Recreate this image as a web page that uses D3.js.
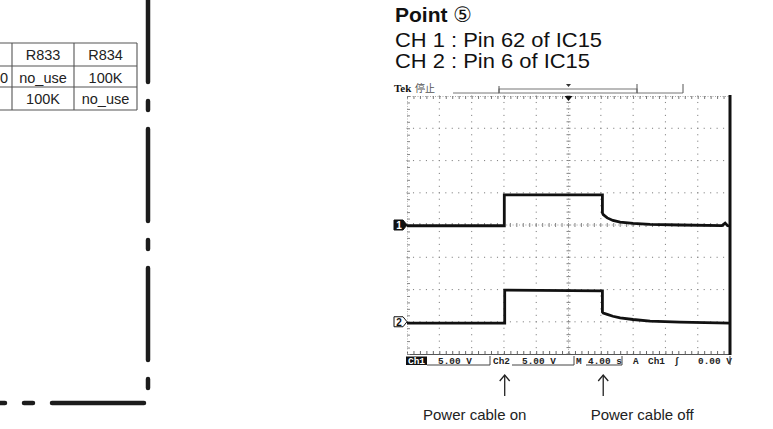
<!DOCTYPE html>
<html><head><meta charset="utf-8">
<script src="https://cdn.jsdelivr.net/npm/d3@7"></script>
<style>body{margin:0;background:#fff}svg{display:block}</style>
</head><body><svg id="c" width="773" height="429"></svg>
<script>
// ---- data ----
const ch1Time  = [-20, -7.95, -7.95, 4.2, 4.2, 4.3, 4.8, 5.5, 6.4, 8.0, 10.1, 13.8, 19.0, 19.4, 19.7, 20];
const ch1Volts = [-0.12, -0.12, 4.68, 4.68, 1.9, 1.6, 1.1, 0.7, 0.45, 0.25, 0.1, 0.0, -0.1, 0.3, -0.1, -0.12];
const ch2Time  = [-20, -7.9, -7.9, 4.2, 4.2, 4.3, 4.8, 5.5, 6.4, 8.0, 10.1, 13.8, 20];
const ch2Volts = [-0.2, -0.2, 4.9, 4.8, 1.5, 1.35, 1.15, 0.85, 0.6, 0.35, 0.1, -0.05, -0.2];
const channelOffsetsDiv = [0, -3];
const voltsPerDiv = 5;
const secPerDiv = 4;
const titleBold = "Point";
const titleCircle = "\u2464";
const titleLines = ["CH 1 : Pin 62 of IC15", "CH 2 : Pin 6 of IC15"];
const statusTexts = ["5.00 V", "Ch2", "5.00 V", "M", "4.00 s", "A", "Ch1", "\u0283", "0.00 V"];
const arrowTimes = [-7.9, 4.3];
const arrowLabels = ["Power cable on", "Power cable off"];
const tableHeader = ["", "R833", "R834"];
const tableRows = [["0", "no_use", "100K"], ["", "100K", "no_use"]];

// ---- setup ----
const svg = d3.select("#c");
svg.append("rect").attr("width", 773).attr("height", 429).attr("fill", "#fff");

const x = d3.scaleLinear().domain([-5 * secPerDiv, 5 * secPerDiv]).range([407, 730]);
const yDiv = d3.scaleLinear().domain([-4, 4]).range([354, 96]);
const chY = (ch, v) => yDiv(channelOffsetsDiv[ch] + v / voltsPerDiv);

// ---- left decorations: table + dashed border ----
const colX = [-50, 12, 74, 137];
const rowY = [43, 66, 87, 110];
const tg = svg.append("g").attr("stroke", "#555").attr("stroke-width", 1.1);
rowY.forEach(yy => tg.append("line").attr("x1", 0).attr("x2", 137).attr("y1", yy).attr("y2", yy));
colX.slice(1).forEach(xx => tg.append("line").attr("x1", xx).attr("x2", xx).attr("y1", 43).attr("y2", 110));
const allRows = [tableHeader, ...tableRows];
allRows.forEach((row, r) => {
  row.forEach((txt, c) => {
    if (!txt) return;
    const cx = c === 0 ? 8 : (colX[c] + colX[c + 1]) / 2;
    svg.append("text").attr("x", cx).attr("y", rowY[r] + 17)
      .attr("text-anchor", c === 0 ? "end" : "middle")
      .attr("font-family", "Liberation Sans, Arial, sans-serif").attr("font-size", 14.5)
      .attr("fill", "#222").text(txt);
  });
});
svg.append("path").attr("d", "M148,403 L148,-60")
  .attr("stroke", "#1c1c1c").attr("stroke-width", 4.5).attr("fill", "none")
  .attr("stroke-linecap", "round").attr("stroke-dasharray", "92,19,9,19").attr("stroke-dashoffset", 96);
svg.append("path").attr("d", "M148,403 L-60,403")
  .attr("stroke", "#1c1c1c").attr("stroke-width", 4.5).attr("fill", "none")
  .attr("stroke-linecap", "round").attr("stroke-dasharray", "92,19,9,19").attr("stroke-dashoffset", 135);

// ---- titles ----
const sans = "Liberation Sans, Arial, Helvetica, sans-serif";
const t0 = svg.append("text").attr("x", 395).attr("y", 22).attr("font-family", sans).attr("font-size", 21).attr("fill", "#111");
t0.append("tspan").attr("font-weight", "bold").text(titleBold + " ");
t0.append("tspan").attr("font-family", "DejaVu Sans, Noto Sans CJK JP, sans-serif").attr("font-size", 21).text(titleCircle);
titleLines.forEach((s, i) => {
  svg.append("text").attr("x", 395).attr("y", 47 + i * 21).attr("font-family", sans)
    .attr("font-size", 21).attr("textLength", i === 0 ? 207 : 195).attr("lengthAdjust", "spacingAndGlyphs")
    .attr("fill", "#111").text(s);
});

// ---- scope header ----
svg.append("text").attr("x", 394).attr("y", 92).attr("font-family", "Liberation Serif, Times, serif")
  .attr("font-weight", "bold").attr("font-size", 11).attr("fill", "#111").text("Tek");
svg.append("text").attr("x", 415).attr("y", 92).attr("font-family", "Noto Sans CJK JP, sans-serif")
  .attr("font-size", 10).attr("fill", "#555").text("停止");
const hg = svg.append("g").attr("stroke", "#777").attr("stroke-width", 1).attr("fill", "none");
hg.append("line").attr("x1", 453).attr("x2", 499).attr("y1", 93).attr("y2", 93);
hg.append("rect").attr("x", 499).attr("y", 89).attr("width", 138).attr("height", 4);
hg.append("line").attr("x1", 637).attr("x2", 683).attr("y1", 93).attr("y2", 93);
[[499, 86], [637, 84], [683, 84]].forEach(([xx, y1]) =>
  hg.append("line").attr("x1", xx).attr("x2", xx).attr("y1", y1).attr("y2", 93).attr("stroke", "#555"));
svg.append("path").attr("d", `M${x(0) - 2.5},84 L${x(0) + 2.5},84 L${x(0)},87 Z`).attr("fill", "#333");

// ---- grid ----
const gg = svg.append("g");
const minorT = d3.range(-20, 20.001, secPerDiv / 5);
const minorD = d3.range(-4, 4.001, 0.2);
d3.range(-16, 16.001, secPerDiv).filter(t => Math.abs(t) > 0.01).forEach(t => {
  minorD.forEach(d => gg.append("rect").attr("x", x(t) - 0.5).attr("y", yDiv(d) - 0.5)
    .attr("width", 1.1).attr("height", 1.1).attr("fill", "#888"));
});
d3.range(-3, 3.001, 1).filter(d => Math.abs(d) > 0.01).forEach(d => {
  minorT.forEach(t => gg.append("rect").attr("x", x(t) - 0.5).attr("y", yDiv(d) - 0.5)
    .attr("width", 1.1).attr("height", 1.1).attr("fill", "#888"));
});
const cg = svg.append("g").attr("stroke", "#777").attr("stroke-width", 0.9);
minorD.forEach(d => {
  cg.append("line").attr("x1", x(0) - 2).attr("x2", x(0) + 2).attr("y1", yDiv(d)).attr("y2", yDiv(d));
});
minorT.forEach(t => {
  cg.append("line").attr("x1", x(t)).attr("x2", x(t)).attr("y1", yDiv(0) - 2).attr("y2", yDiv(0) + 2);
});
cg.append("line").attr("x1", x(0)).attr("x2", x(0)).attr("y1", 96).attr("y2", 354).attr("stroke-dasharray", "1,2.2").attr("stroke", "#999");
cg.append("line").attr("x1", 407).attr("x2", 730).attr("y1", yDiv(0)).attr("y2", yDiv(0)).attr("stroke-dasharray", "1,2.2").attr("stroke", "#999");

const topAx = d3.axisBottom(x).tickValues(minorT).tickSize(3).tickFormat("");
svg.append("g").attr("transform", "translate(0,96)").call(topAx)
  .call(g => { g.select(".domain").attr("stroke", "#aaa").attr("stroke-dasharray", "1,1.5"); g.selectAll("line").attr("stroke", "#777"); });
const botAx = d3.axisTop(x).tickValues(minorT).tickSize(3).tickFormat("");
svg.append("g").attr("transform", "translate(0,354)").call(botAx)
  .call(g => { g.select(".domain").attr("stroke", "#555"); g.selectAll("line").attr("stroke", "#666"); });
const leftAx = d3.axisRight(yDiv).tickValues(minorD).tickSize(3).tickFormat("");
svg.append("g").attr("transform", "translate(407,0)").call(leftAx)
  .call(g => { g.select(".domain").attr("stroke", "#bbb").attr("stroke-dasharray", "1,1.5"); g.selectAll("line").attr("stroke", "#888"); });
svg.append("line").attr("x1", 730).attr("x2", 730).attr("y1", 95).attr("y2", 355).attr("stroke", "#111").attr("stroke-width", 3);
svg.append("path").attr("d", `M${x(0) - 4},96 L${x(0) + 4},96 L${x(0)},101 Z`).attr("fill", "#111");

// ---- waveforms ----
const line = ch => d3.line().x(d => x(d[0])).y(d => chY(ch, d[1]));
const ch1 = ch1Time.map((t, i) => [t, ch1Volts[i]]);
const ch2 = ch2Time.map((t, i) => [t, ch2Volts[i]]);
[ch1, ch2].forEach((data, ch) => {
  svg.append("path").datum(data).attr("d", line(ch)).attr("fill", "none")
    .attr("stroke", "#111").attr("stroke-width", 2.8).attr("stroke-linejoin", "miter");
});

[0, 1].forEach(ch => {
  const cy = yDiv(channelOffsetsDiv[ch]);
  svg.append("path").attr("d", `M394,${cy - 5} L403,${cy - 5} L407,${cy} L403,${cy + 5} L394,${cy + 5} Z`)
    .attr("fill", ch === 0 ? "#111" : "#fff").attr("stroke", "#111").attr("stroke-width", 1);
  svg.append("text").attr("x", 399).attr("y", cy + 4).attr("text-anchor", "middle")
    .attr("font-family", "Liberation Sans, Arial, sans-serif").attr("font-weight", "bold").attr("font-size", 10)
    .attr("fill", ch === 0 ? "#fff" : "#111").text(String(ch + 1));
});

// ---- status bar ----
const mono = "Liberation Mono, DejaVu Sans Mono, monospace";
svg.append("rect").attr("x", 406).attr("y", 356.5).attr("width", 21).attr("height", 8.5).attr("fill", "#111");
svg.append("text").attr("x", 416.5).attr("y", 364).attr("text-anchor", "middle").attr("font-family", mono)
  .attr("font-weight", "bold").attr("font-size", 9.5).attr("fill", "#fff").text("Ch1");
const statusX = [438, 493, 522, 576, 588, 633, 648, 674, 698];
statusTexts.forEach((s, i) => {
  svg.append("text").attr("x", statusX[i]).attr("y", 364).attr("font-family", mono)
    .attr("font-weight", "bold").attr("font-size", 9.4).attr("fill", "#222").text(s);
});
const sg = svg.append("g").attr("stroke", "#444").attr("stroke-width", 1);
[[427, 490], [512, 574], [586, 622]].forEach(([a, b]) =>
  sg.append("line").attr("x1", a).attr("x2", b).attr("y1", 365).attr("y2", 365));
[490, 574, 622, 730].forEach(xx =>
  sg.append("line").attr("x1", xx).attr("x2", xx).attr("y1", 356).attr("y2", 365));

// ---- arrows and labels ----
const labelDx = [-30, 39];
arrowTimes.forEach((t, i) => {
  const ax = x(t);
  const ag = svg.append("g").attr("stroke", "#222").attr("stroke-width", 1.3).attr("fill", "none");
  ag.append("line").attr("x1", ax).attr("x2", ax).attr("y1", 375).attr("y2", 396);
  ag.append("path").attr("d", `M${ax - 5},381 L${ax},375 L${ax + 5},381`);
  svg.append("text").attr("x", ax + labelDx[i]).attr("y", 420).attr("text-anchor", "middle")
    .attr("font-family", sans).attr("font-size", 15).attr("fill", "#222").text(arrowLabels[i]);
});
</script></body></html>
